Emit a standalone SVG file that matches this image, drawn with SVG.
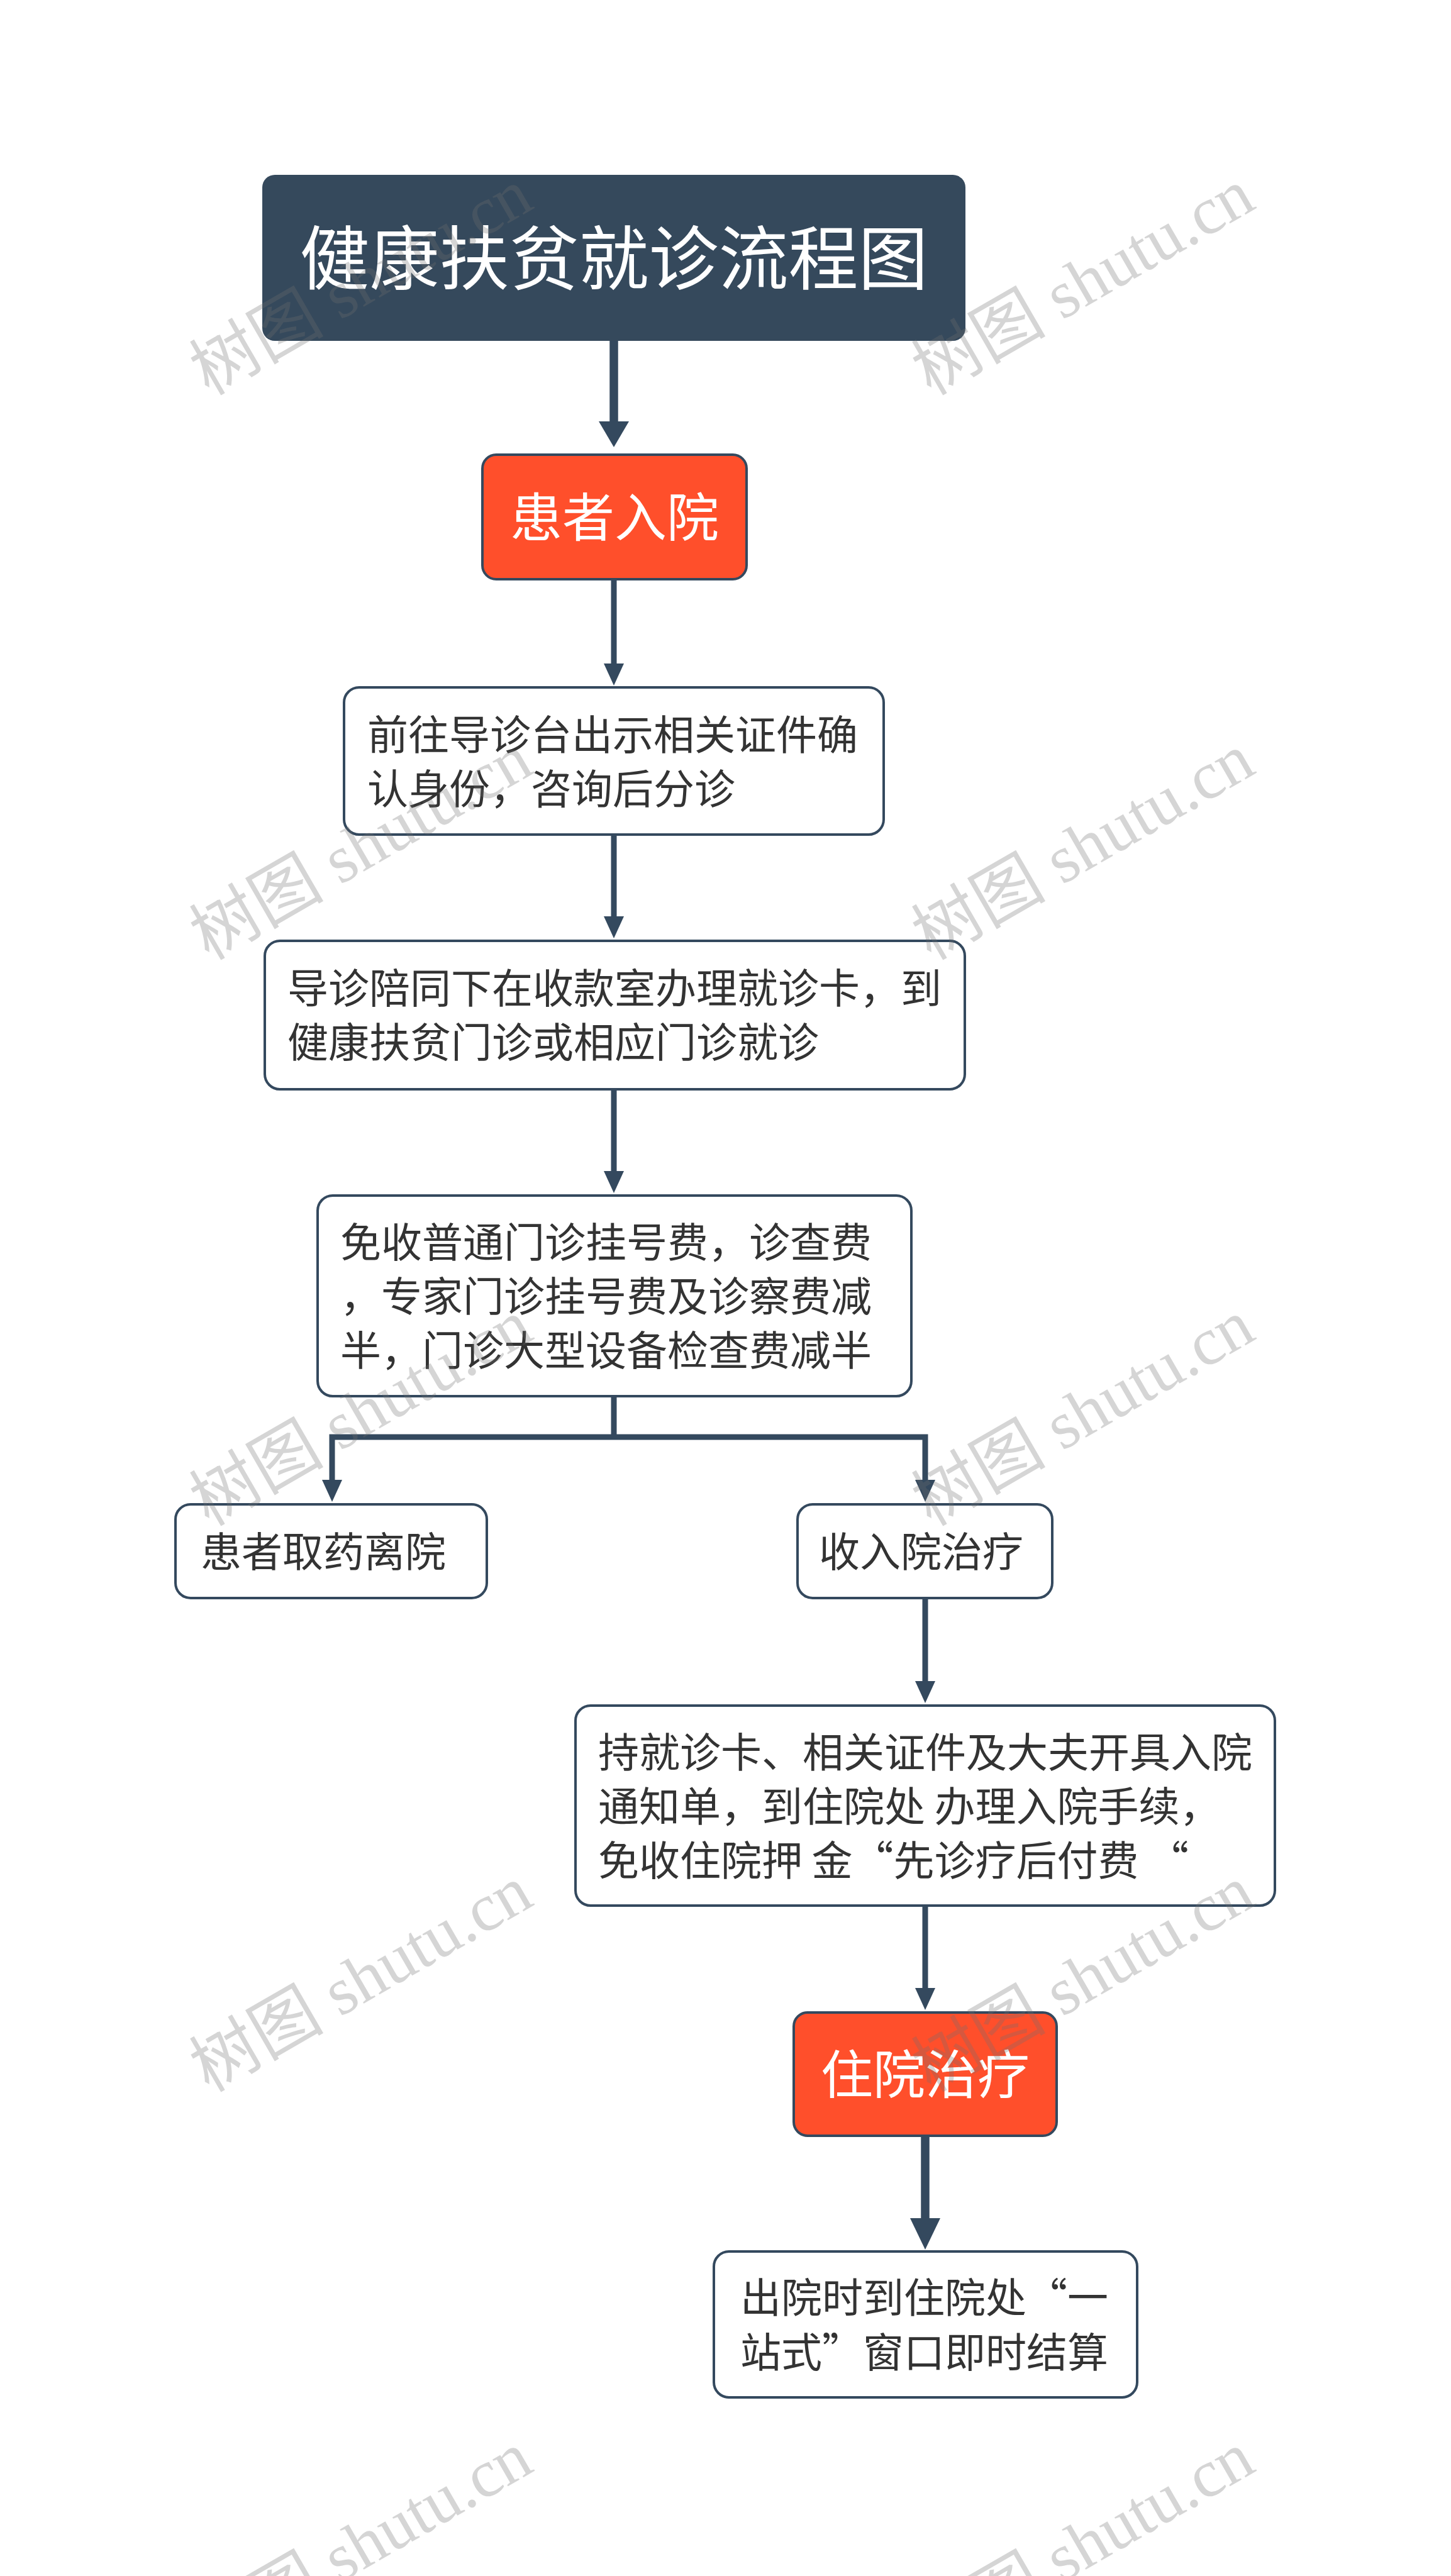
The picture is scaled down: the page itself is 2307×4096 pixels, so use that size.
<svg xmlns="http://www.w3.org/2000/svg" width="2307" height="4096" viewBox="0 0 2307 4096">
<style>
.box{fill:#ffffff;stroke:#34495e;stroke-width:4}
.hot{fill:#ff4f2b;stroke:#34495e;stroke-width:4}
.t{font-family:"Noto Sans CJK SC","Noto Sans",sans-serif;font-size:65px;fill:#333333}
.tw{font-family:"Noto Sans CJK SC","Noto Sans",sans-serif;fill:#ffffff;text-anchor:middle}
.ln{stroke:#34495e;fill:none;stroke-width:9}
.lnb{stroke:#34495e;fill:none;stroke-width:13.5}
.ah{fill:#34495e}
.wm{font-family:"Liberation Serif","Noto Sans CJK SC",serif;font-size:107px;fill:#707070;opacity:0.29}
</style>
<rect x="0" y="0" width="2307" height="4096" fill="#ffffff"/>

<g id="connectors">
  <line class="lnb" x1="976" y1="542" x2="976" y2="672"/>
  <polygon class="ah" points="952,670 1000,670 976,711"/>

  <line class="ln" x1="976" y1="921" x2="976" y2="1058"/>
  <polygon class="ah" points="960,1055 992,1055 976,1090"/>

  <line class="ln" x1="976" y1="1327" x2="976" y2="1460"/>
  <polygon class="ah" points="960,1457 992,1457 976,1492"/>

  <line class="ln" x1="976" y1="1732" x2="976" y2="1865"/>
  <polygon class="ah" points="960,1862 992,1862 976,1897"/>

  <polyline class="ln" points="976,2220 976,2285"/>
  <polyline class="ln" points="528,2356 528,2285 1471,2285 1471,2356" stroke-linejoin="miter"/>
  <polygon class="ah" points="512,2353 544,2353 528,2388"/>
  <polygon class="ah" points="1455,2353 1487,2353 1471,2388"/>

  <line class="ln" x1="1471" y1="2541" x2="1471" y2="2676"/>
  <polygon class="ah" points="1455,2673 1487,2673 1471,2708"/>

  <line class="ln" x1="1471" y1="3030" x2="1471" y2="3164"/>
  <polygon class="ah" points="1455,3161 1487,3161 1471,3196"/>

  <line class="lnb" x1="1471" y1="3396" x2="1471" y2="3530"/>
  <polygon class="ah" points="1447,3527 1495,3527 1471,3577"/>
</g>

<g id="title">
  <rect x="417" y="278" width="1118" height="264" rx="20" fill="#35495c"/>
  <text class="tw" x="976" y="452" font-size="111">健康扶贫就诊流程图</text>
</g>

<g id="n-admit">
  <rect class="hot" x="767" y="723" width="420" height="198" rx="22"/>
  <text class="tw" x="977" y="853" font-size="83">患者入院</text>
</g>

<g id="n-guide">
  <rect class="box" x="547" y="1093" width="858" height="234" rx="24"/>
  <text class="t" x="584" y="1192">前往导诊台出示相关证件确</text>
  <text class="t" x="584" y="1278">认身份，咨询后分诊</text>
</g>

<g id="n-card">
  <rect class="box" x="421" y="1496" width="1113" height="236" rx="24"/>
  <text class="t" x="457" y="1595">导诊陪同下在收款室办理就诊卡，到</text>
  <text class="t" x="457" y="1681">健康扶贫门诊或相应门诊就诊</text>
</g>

<g id="n-fee">
  <rect class="box" x="505" y="1901" width="944" height="319" rx="24"/>
  <text class="t" x="541" y="1999">免收普通门诊挂号费，诊查费</text>
  <text class="t" x="541" y="2085">，专家门诊挂号费及诊察费减</text>
  <text class="t" x="541" y="2171">半，门诊大型设备检查费减半</text>
</g>

<g id="n-leave">
  <rect class="box" x="279" y="2392" width="495" height="149" rx="24"/>
  <text class="t" x="319" y="2491">患者取药离院</text>
</g>

<g id="n-inpatient">
  <rect class="box" x="1268" y="2392" width="405" height="149" rx="24"/>
  <text class="t" x="1302" y="2491">收入院治疗</text>
</g>

<g id="n-procedure">
  <rect class="box" x="915" y="2712" width="1112" height="318" rx="24"/>
  <text class="t" x="951" y="2810">持就诊卡、相关证件及大夫开具入院</text>
  <text class="t" x="951" y="2896">通知单，到住院处 办理入院手续，</text>
  <text class="t" x="951" y="2982">免收住院押 金“先诊疗后付费 “</text>
</g>

<g id="n-hospital">
  <rect class="hot" x="1262" y="3200" width="418" height="196" rx="22"/>
  <text class="tw" x="1471" y="3329" font-size="83">住院治疗</text>
</g>

<g id="n-discharge">
  <rect class="box" x="1135" y="3580" width="673" height="232" rx="24"/>
  <text class="t" x="1177" y="3677">出院时到住院处“一</text>
  <text class="t" x="1177" y="3764">站式”窗口即时结算</text>
</g>

<g id="watermarks">
  <text class="wm" transform="translate(332,630) rotate(-30)">树图 shutu.cn</text>
  <text class="wm" transform="translate(1480,630) rotate(-30)">树图 shutu.cn</text>
  <text class="wm" transform="translate(332,1528) rotate(-30)">树图 shutu.cn</text>
  <text class="wm" transform="translate(1480,1528) rotate(-30)">树图 shutu.cn</text>
  <text class="wm" transform="translate(332,2428) rotate(-30)">树图 shutu.cn</text>
  <text class="wm" transform="translate(1480,2428) rotate(-30)">树图 shutu.cn</text>
  <text class="wm" transform="translate(332,3328) rotate(-30)">树图 shutu.cn</text>
  <text class="wm" transform="translate(1480,3328) rotate(-30)">树图 shutu.cn</text>
  <text class="wm" transform="translate(332,4228) rotate(-30)">树图 shutu.cn</text>
  <text class="wm" transform="translate(1480,4228) rotate(-30)">树图 shutu.cn</text>
</g>
</svg>
